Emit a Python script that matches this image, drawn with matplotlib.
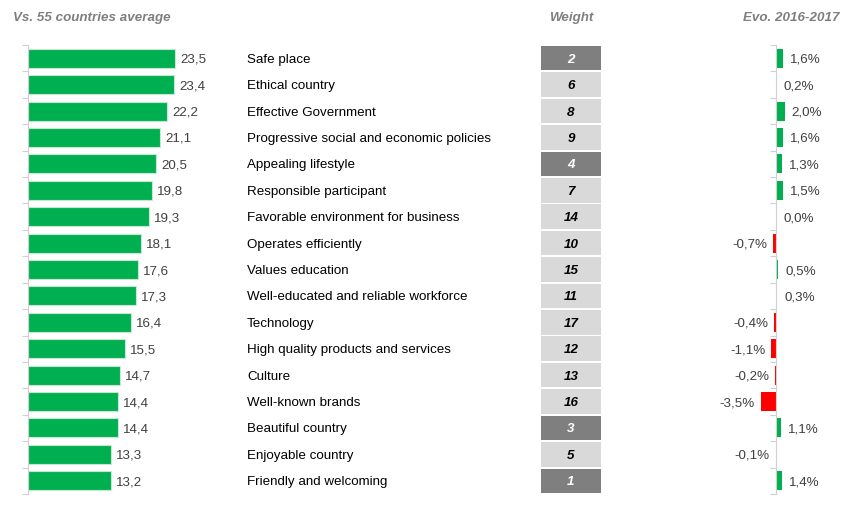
import matplotlib.pyplot as plt

plt.rcParams['font.family'] = ['Liberation Sans', 'DejaVu Sans']

labels = ['Safe place', 'Ethical country', 'Effective Government',
          'Progressive social and economic policies', 'Appealing lifestyle',
          'Responsible participant', 'Favorable environment for business',
          'Operates efficiently', 'Values education',
          'Well-educated and reliable workforce', 'Technology',
          'High quality products and services', 'Culture', 'Well-known brands',
          'Beautiful country', 'Enjoyable country', 'Friendly and welcoming']
avg = [23.5, 23.4, 22.2, 21.1, 20.5, 19.8, 19.3, 18.1, 17.6, 17.3, 16.4,
       15.5, 14.7, 14.4, 14.4, 13.3, 13.2]
weights = [2, 6, 8, 9, 4, 7, 14, 10, 15, 11, 17, 12, 13, 16, 3, 5, 1]
evo = [1.6, 0.2, 2.0, 1.6, 1.3, 1.5, 0.0, -0.7, 0.5, 0.3, -0.4, -1.1, -0.2,
       -3.5, 1.1, -0.1, 1.4]

W, H = 847, 514
green = '#00b050'
red = '#ff0000'
grey_txt = '#7f7f7f'
spine_c = '#d0d0d0'
fs = 9.6
n = len(labels)
rows = list(range(n))

fig = plt.figure(figsize=(W / 100, H / 100), dpi=100)
top, bot = 45, 494


def add_ax(x0, x1):
    return fig.add_axes([x0 / W, 1 - bot / H, (x1 - x0) / W, (bot - top) / H])


def style(ax):
    for s in ['top', 'right', 'bottom']:
        ax.spines[s].set_visible(False)
    ax.spines['left'].set_color(spine_c)
    ax.set_ylim(n - 0.5, -0.5)
    ax.set_yticks([i - 0.5 for i in range(n + 1)])
    ax.set_yticklabels([])
    ax.tick_params(axis='y', length=4, color=spine_c, direction='out')
    ax.set_xticks([])
    ax.patch.set_alpha(0)


# left bars
ax1 = add_ax(28, 28 + 30 * 6.26)
ax1.barh(rows, avg, height=0.72, color=green, edgecolor='#c6e8d2', linewidth=0.8)
ax1.set_xlim(0, 30)
style(ax1)
for i, v in enumerate(avg):
    ax1.text(v + 0.8, i, f'{v:.1f}'.replace('.', ','), va='center_baseline', ha='left',
             fontsize=fs, color='#404040')

# labels
for i, lab in enumerate(labels):
    ax1.text(219 / 6.26, i, lab, va='center_baseline', ha='left', fontsize=fs, color='black')

# weight boxes
axw = add_ax(541, 601)
axw.axis('off')
axw.set_ylim(n - 0.5, -0.5)
axw.set_xlim(0, 1)
wcols = ['#7f7f7f' if w <= 4 else '#d9d9d9' for w in weights]
axw.barh(rows, [1] * n, left=0, height=0.93, color=wcols)
for i, w in enumerate(weights):
    axw.text(0.5, i, str(w), ha='center', va='center_baseline', fontsize=fs,
             fontweight='bold', fontstyle='italic',
             color='white' if w <= 4 else 'black')

# evolution bars
k = 4.4
ax2 = add_ax(776 - 5 * k, 776 + 5 * k)
ax2.set_xlim(0, 10)
ecols = [green if v >= 0 else red for v in evo]
ax2.barh(rows, evo, left=5, height=0.72, color=ecols, linewidth=0)
style(ax2)
ax2.spines['left'].set_position(('data', 5))
for i, v in enumerate(evo):
    t = f'{v:.1f}%'.replace('.', ',')
    if v >= 0:
        ax2.text(5 + v + 1.6, i, t, ha='left', va='center_baseline', fontsize=fs, color='#404040')
    else:
        ax2.text(5 + v - 1.3, i, t, ha='right', va='center_baseline', fontsize=fs, color='#404040')

# headers
hk = dict(fontsize=fs, fontweight='bold', fontstyle='italic', color=grey_txt, va='center')
fig.text(13 / W, 1 - 18 / H, 'Vs. 55 countries average', ha='left', **hk)
fig.text(571 / W, 1 - 18 / H, 'Weight', ha='center', **hk)
fig.text(839 / W, 1 - 18 / H, 'Evo. 2016-2017', ha='right', **hk)

fig.savefig('out.png', dpi=100)
